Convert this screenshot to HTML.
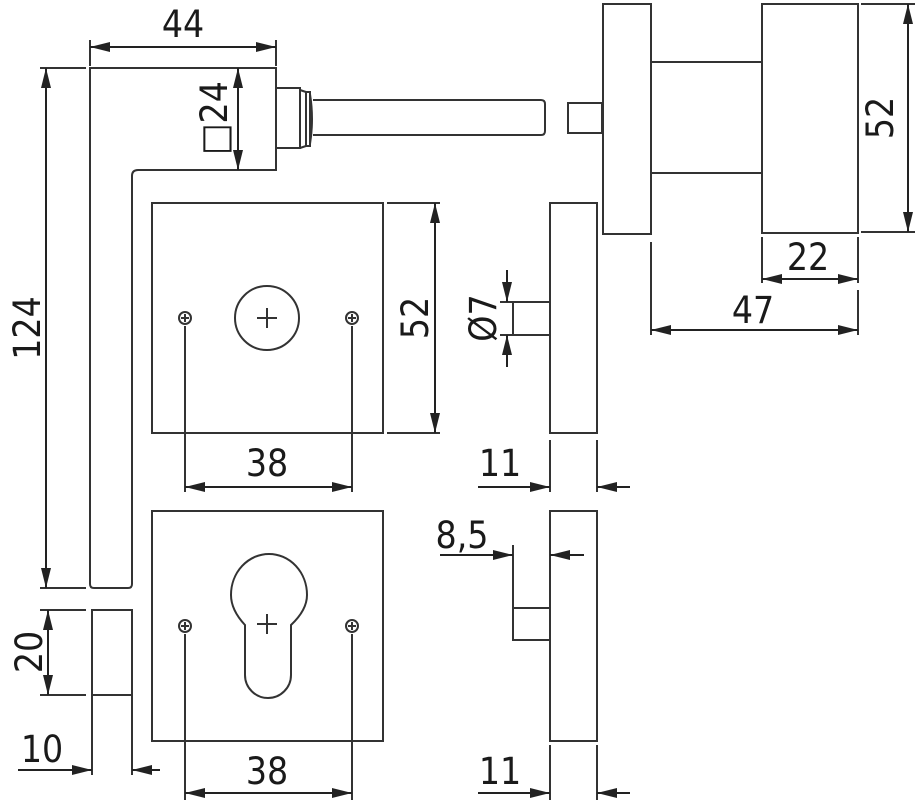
<!DOCTYPE html>
<html><head><meta charset="utf-8"><style>body{margin:0;background:#fff}svg{display:block}text{font-family:"DejaVu Sans Condensed","Liberation Sans",sans-serif;font-size:37px;fill:#1a1a1a;text-anchor:middle}</style></head><body>
<svg width="915" height="800" viewBox="0 0 915 800" xmlns="http://www.w3.org/2000/svg">
<defs><marker id="a" viewBox="0 0 10 5" refX="10" refY="2.5" markerWidth="20" markerHeight="10" markerUnits="userSpaceOnUse" orient="auto-start-reverse"><path d="M0,0L10,2.5L0,5z" fill="#222"/></marker></defs>
<g stroke="#333" stroke-width="2" fill="none">
<path d="M90,68H276V170H138Q132,170 132,176V584Q132,588 128,588H94Q90,588 90,584Z"/>
<path d="M276,88H300V148H276M300,90L306,92V146L300,148M306,92H310V146H306M310,94Q314,119 310,144"/>
<path d="M313,100H541Q545,100 545,104V131Q545,135 541,135H313"/>
<rect x="568" y="103" width="34" height="30"/>
<rect x="603" y="4" width="48" height="230"/>
<path d="M651,62H762M651,173H762"/>
<rect x="762" y="4" width="96" height="229"/>
<path d="M861,4H915M861,232H915M651,242V335M858,237V283M858,290V335M762,237V283"/>
<rect x="152" y="203" width="231" height="230"/>
<circle cx="267" cy="318" r="32"/>
<path d="M257,318H277M267,308V328"/>
<circle cx="185" cy="318" r="6"/><circle cx="352" cy="318" r="6"/>
<path d="M181,318H189M185,314V322M348,318H356M352,314V322"/>
<path d="M185,326V492M352,326V492M387,203H440M387,433H440"/>
<rect x="550" y="203" width="47" height="230"/>
<rect x="513" y="302" width="37" height="33"/>
<path d="M500,302H513M500,335H513M550,440V492M597,440V492"/>
<rect x="152" y="511" width="231" height="230"/>
<path d="M245,625Q231,610 231,595A38,41 0 1 1 307,595Q307,610 291,625V675A23,23 0 0 1 245,675Z"/>
<path d="M257,624H277M267,614V634"/>
<circle cx="185" cy="626" r="6"/><circle cx="352" cy="626" r="6"/>
<path d="M181,626H189M185,622V630M348,626H356M352,622V630"/>
<path d="M185,634V800M352,634V800"/>
<rect x="550" y="511" width="47" height="230"/>
<rect x="513" y="608" width="37" height="32"/>
<path d="M513,545V608M550,745V800M597,745V800"/>
<rect x="92" y="610" width="40" height="85"/>
<path d="M40,68H86M40,588H86M40,610H86M40,695H86M92,695V775M132,695V775M90,40V66M276,40V66"/>
</g>
<g stroke="#222" stroke-width="2" fill="none">
<line x1="90" y1="47" x2="276" y2="47" marker-start="url(#a)" marker-end="url(#a)"/>
<line x1="46" y1="68" x2="46" y2="588" marker-start="url(#a)" marker-end="url(#a)"/>
<line x1="238" y1="68" x2="238" y2="170" marker-start="url(#a)" marker-end="url(#a)"/>
<line x1="908" y1="4" x2="908" y2="232" marker-start="url(#a)" marker-end="url(#a)"/>
<line x1="762" y1="279" x2="858" y2="279" marker-start="url(#a)" marker-end="url(#a)"/>
<line x1="651" y1="330" x2="858" y2="330" marker-start="url(#a)" marker-end="url(#a)"/>
<line x1="435" y1="203" x2="435" y2="433" marker-start="url(#a)" marker-end="url(#a)"/>
<line x1="185" y1="487" x2="352" y2="487" marker-start="url(#a)" marker-end="url(#a)"/>
<line x1="507" y1="270" x2="507" y2="302" marker-end="url(#a)"/>
<line x1="507" y1="367" x2="507" y2="335" marker-end="url(#a)"/>
<line x1="478" y1="487" x2="550" y2="487" marker-end="url(#a)"/>
<line x1="630" y1="487" x2="597" y2="487" marker-end="url(#a)"/>
<line x1="440" y1="555" x2="513" y2="555" marker-end="url(#a)"/>
<line x1="584" y1="555" x2="550" y2="555" marker-end="url(#a)"/>
<line x1="185" y1="793" x2="352" y2="793" marker-start="url(#a)" marker-end="url(#a)"/>
<line x1="478" y1="793" x2="550" y2="793" marker-end="url(#a)"/>
<line x1="630" y1="793" x2="597" y2="793" marker-end="url(#a)"/>
<line x1="48" y1="610" x2="48" y2="695" marker-start="url(#a)" marker-end="url(#a)"/>
<line x1="18" y1="770" x2="92" y2="770" marker-end="url(#a)"/>
<line x1="160" y1="770" x2="132" y2="770" marker-end="url(#a)"/>
</g>
<text x="183" y="37">44</text>
<text transform="translate(40,328) rotate(-90)">124</text>
<text transform="translate(227,118) rotate(-90)">□24</text>
<text transform="translate(893,118) rotate(-90)">52</text>
<text x="808" y="270">22</text>
<text x="753" y="323">47</text>
<text transform="translate(428,318) rotate(-90)">52</text>
<text x="267" y="476">38</text>
<text transform="translate(496,318) rotate(-90)">Ø7</text>
<text x="500" y="476">11</text>
<text x="462" y="548">8,5</text>
<text x="267" y="784">38</text>
<text x="500" y="784">11</text>
<text transform="translate(42,652) rotate(-90)">20</text>
<text x="42" y="762">10</text>
</svg>
</body></html>
